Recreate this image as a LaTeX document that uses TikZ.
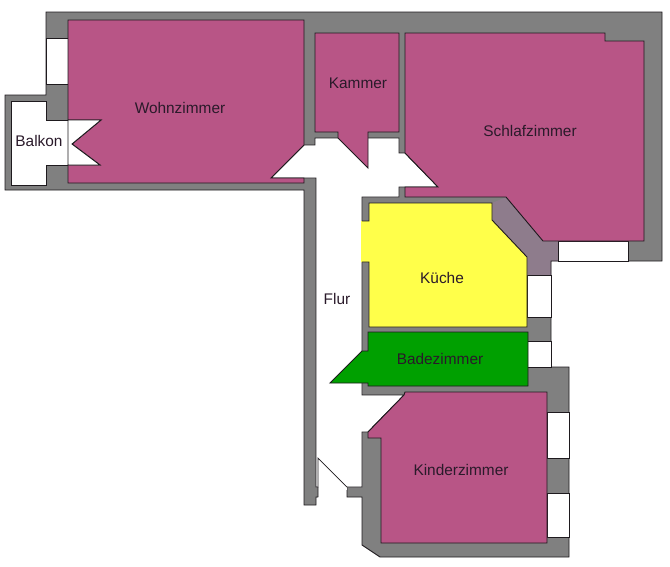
\documentclass[tikz,border=0pt]{standalone}
\usepackage{fontspec}
\setmainfont{Liberation Sans}
\definecolor{wallc}{HTML}{808080}
\definecolor{corner}{HTML}{8E7C8C}
\definecolor{roomc}{HTML}{B85586}
\definecolor{kitchen}{HTML}{FFFF4A}
\definecolor{bath}{HTML}{00A000}
\definecolor{linec}{HTML}{1E1A1E}
\definecolor{labelc}{HTML}{2A1A2A}
\tikzset{
  edge/.style={draw=linec,line width=0.9pt,line join=miter},
  room/.style={fill=roomc,edge},
  windowpane/.style={fill=white,edge},
  label/.style={text=labelc,font=\fontsize{15.4}{18}\selectfont,inner sep=0pt}
}
\begin{document}
\begin{tikzpicture}[x=1pt,y=-1pt]
\useasboundingbox (0,0) rectangle (670,566);
% wall mass
\fill[wallc] (46,12)--(662,12)--(662,261)--(551,261)--(551,367)--(569,367)--(569,557)--(380,557)--(362,545)--(362,497)--(347,497)--(347,487)--(318,487)--(318,497)--(316,497)--(316,505)--(304,505)--(304,190)--(5,190)--(5,95)--(46,95)--cycle;
\fill[corner] (492,203)--(506,197)--(543,241)--(558,241)--(558,261)--(551,261)--(551,275)--(527,275)--(527,257)--(492,220)--cycle;
\draw[edge] (347,487)--(347,497)--(362,497)--(362,545)--(380,557)--(569,557)--(569,367)--(551,367)--(551,261)--(662,261)--(662,12)--(46,12)--(46,95)--(5,95)--(5,190)--(304,190)--(304,505)--(316,505)--(316,497)--(318,497);
% balcony
\path[fill=white] (11,101)--(46,101)--(46,120)--(68,120)--(68,165)--(46,165)--(46,185)--(11,185)--cycle;
\draw[edge] (68,120)--(46,120)--(46,101)--(11,101)--(11,185)--(46,185)--(46,165)--(68,165);
% windows
\draw[windowpane] (46,38) rectangle (68,84);
\draw[windowpane] (558,241) rectangle (628,261);
\draw[windowpane] (527,275) rectangle (551,317);
\draw[windowpane] (527,341) rectangle (551,367);
\draw[windowpane] (547,412) rectangle (569,458);
\draw[windowpane] (547,493) rectangle (569,537);
% hall
\fill[white] (347,487)--(362,487)--(362,432)--(368,432)--(404,395)--(362,395)--(362,197)--(399,197)--(399,187)--(438,187)--(405,153)--(399,153)--(399,138)--(315,138)--(315,145)--(304,145)--(271,178)--(316,178)--(316,487)--cycle;
\fill[white] (318.5,480) rectangle (346.5,490);
\draw[edge] (347,487)--(362,487)--(362,432)--(368,432)--(404,395)--(362,395)--(362,197)--(399,197)--(399,187)--(438,187)--(405,153)--(399,153)--(399,138)--(315,138)--(315,145)--(304,145)--(271,178)--(316,178)--(316,487)--(318,487);
\draw[linec,line width=0.7pt] (318,497)--(318,458)--(347,487);
% rooms
\draw[room] (68,20)--(304,20)--(304,145)--(271,178)--(304,178)--(304,183)--(68,183)--(68,165)--(100,165)--(72,144)--(101,120)--(68,120)--cycle;
\fill[white] (68,120)--(101,120)--(72,144)--(100,165)--(68,165)--cycle;
\draw[edge] (68,120)--(101,120)--(72,144)--(100,165)--(68,165)--cycle;
\draw[room] (315,33)--(399,33)--(399,132)--(368,132)--(368,168)--(338,138)--(338,132)--(315,132)--cycle;
\draw[room] (405,33)--(605,33)--(605,41)--(644,41)--(644,241)--(543,241)--(506,197)--(405,197)--(405,187)--(438,187)--(405,153)--cycle;
\draw[room] (405,392)--(547,392)--(547,543)--(381,543)--(381,438)--(368,438)--(368,432)--(404,395)--cycle;
\fill[kitchen] (361,221)--(369,221)--(369,203)--(492,203)--(492,220)--(527,257)--(527,327)--(369,327)--(369,262)--(361,262)--cycle;
\draw[edge] (362,221)--(369,221)--(369,203)--(492,203)--(492,220)--(527,257)--(527,327)--(369,327)--(369,262)--(362,262);
\draw[edge,fill=bath] (368,332)--(528,332)--(528,386)--(368,386)--(368,383)--(330,383)--(362,351)--(368,351)--cycle;
% labels
\node[label] (wohn) at (180,108) {Wohnzimmer};
\node[label] (kammer) at (358,83) {Kammer};
\node[label] (schlaf) at (530,131) {Schlafzimmer};
\node[label] (balkon) at (39,141) {Balkon};
\node[label] (kueche) at (442,278) {Küche};
\node[label] (flur) at (337,299) {Flur};
\node[label] (bad) at (440,359) {Badezimmer};
\node[label] (kinder) at (461,470) {Kinderzimmer};
\end{tikzpicture}
\end{document}
